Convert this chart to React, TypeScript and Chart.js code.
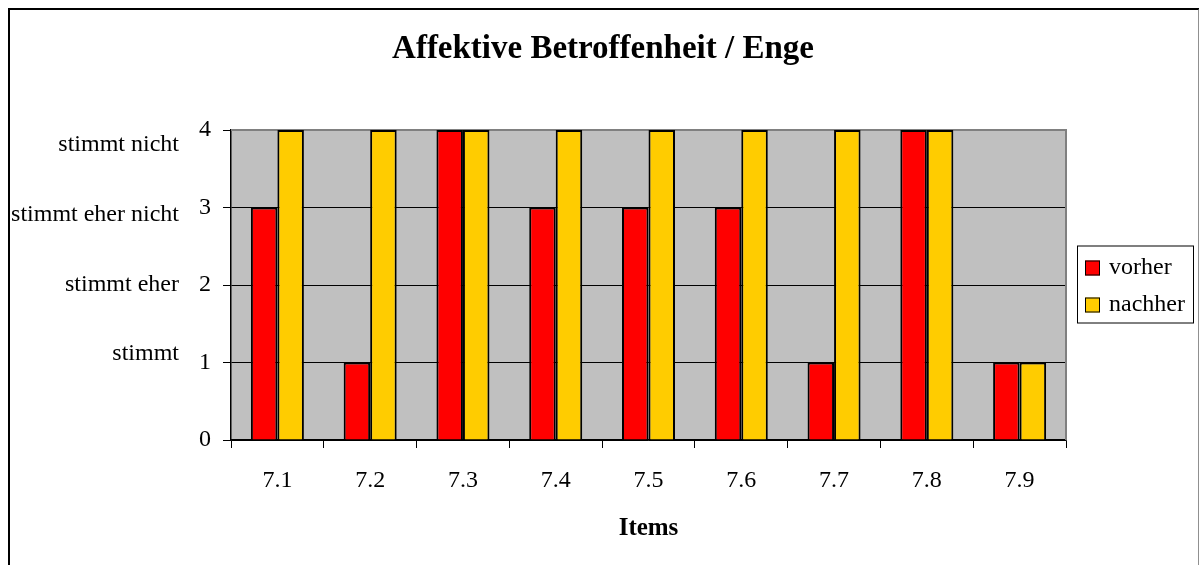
import React, { useEffect, useRef } from "react";
import { Chart, registerables } from "chart.js";

Chart.register(...registerables);

const categories = ["7.1", "7.2", "7.3", "7.4", "7.5", "7.6", "7.7", "7.8", "7.9"];
const vorher = [3, 1, 4, 3, 3, 3, 1, 4, 1];
const nachher = [4, 4, 4, 4, 4, 4, 4, 4, 1];
const seriesNames = ["vorher", "nachher"];
const seriesColors = ["#FF0000", "#FFCC00"];
const levelLabels = ["stimmt nicht", "stimmt eher nicht", "stimmt eher", "stimmt"];
const titleText = "Affektive Betroffenheit / Enge";
const xTitle = "Items";

const FONT = "'Liberation Serif', 'Times New Roman', serif";

const plotBgPlugin = {
  id: "plotBg",
  beforeDraw(chart: any) {
    const { ctx, chartArea: a } = chart;
    ctx.save();
    ctx.fillStyle = "#C0C0C0";
    ctx.fillRect(a.left, a.top, a.right - a.left, a.bottom - a.top);
    ctx.restore();
  },
  beforeDatasetsDraw(chart: any) {
    const { ctx, chartArea: a } = chart;
    ctx.save();
    ctx.strokeStyle = "#808080";
    ctx.lineWidth = 2;
    ctx.beginPath();
    ctx.moveTo(a.left, a.top);
    ctx.lineTo(a.right, a.top);
    ctx.lineTo(a.right, a.bottom);
    ctx.stroke();
    ctx.restore();
  },
};

const titlePlugin = {
  id: "centerTitle",
  afterDraw(chart: any) {
    const { ctx } = chart;
    ctx.save();
    ctx.font = `bold 33px ${FONT}`;
    ctx.fillStyle = "#000";
    ctx.textAlign = "center";
    ctx.textBaseline = "middle";
    ctx.fillText(titleText, 603, 49);
    ctx.restore();
  },
};

const levelLabelPlugin = {
  id: "levelLabels",
  afterDraw(chart: any) {
    const { ctx, chartArea: a } = chart;
    ctx.save();
    ctx.font = `24px ${FONT}`;
    ctx.fillStyle = "#000";
    ctx.textAlign = "right";
    ctx.textBaseline = "middle";
    levelLabels.forEach((t, i) => {
      ctx.fillText(t, 179, a.top + 15 + i * 69.7);
    });
    ctx.restore();
  },
};

const legendPlugin = {
  id: "boxLegend",
  afterDraw(chart: any) {
    const { ctx, chartArea: a } = chart;
    const x0 = a.right + 11;
    const w = 116;
    const h = 77;
    const y0 = (a.top + a.bottom) / 2 - h / 2 - 1;
    ctx.save();
    ctx.fillStyle = "#fff";
    ctx.fillRect(x0, y0, w, h);
    ctx.strokeStyle = "#000";
    ctx.lineWidth = 1;
    ctx.strokeRect(x0 + 0.5, y0 + 0.5, w, h);
    ctx.font = `24px ${FONT}`;
    ctx.textBaseline = "middle";
    ctx.textAlign = "left";
    chart.data.datasets.forEach((ds: any, i: number) => {
      const cy = y0 + 22 + i * 37;
      ctx.fillStyle = ds.backgroundColor;
      ctx.fillRect(x0 + 8, cy - 7, 15, 15);
      ctx.strokeStyle = "#000";
      ctx.strokeRect(x0 + 8.5, cy - 6.5, 14, 14);
      ctx.fillStyle = "#000";
      ctx.fillText(ds.label, x0 + 32, cy);
    });
    ctx.restore();
  },
};

export default function App() {
  const ref = useRef<HTMLCanvasElement | null>(null);

  useEffect(() => {
    if (!ref.current) return;
    const chart = new Chart(ref.current, {
      type: "bar",
      data: {
        labels: categories,
        datasets: [
          {
            label: seriesNames[0],
            data: vorher,
            backgroundColor: seriesColors[0],
            borderColor: "#000",
            borderWidth: 2,
            categoryPercentage: 2 / 3.5,
            barPercentage: 1,
          },
          {
            label: seriesNames[1],
            data: nachher,
            backgroundColor: seriesColors[1],
            borderColor: "#000",
            borderWidth: 2,
            categoryPercentage: 2 / 3.5,
            barPercentage: 1,
          },
        ],
      },
      options: {
        responsive: false,
        animation: false,
        layout: { padding: { left: 0, right: 133, top: 130, bottom: 0 } },
        plugins: {
          legend: { display: false },
          tooltip: { enabled: false },
          title: { display: false },
        },
        scales: {
          x: {
            grid: {
              offset: true,
              drawOnChartArea: false,
              tickLength: 8,
              tickColor: "#000",
              color: "#000",
            },
            border: { color: "#000", width: 1.5 },
            ticks: {
              color: "#000",
              font: { family: FONT, size: 24 },
              padding: 18,
              maxRotation: 0,
            },
            title: {
              display: true,
              text: xTitle,
              color: "#000",
              font: { family: FONT, size: 25, weight: "bold" },
              padding: { top: 0, bottom: 21 },
            },
            afterFit: (s: any) => {
              s.height = 125;
            },
          },
          y: {
            min: 0,
            max: 4,
            grid: {
              color: (c: any) => (c.tick && c.tick.value === 4 ? "rgba(0,0,0,0)" : "#000"),
              tickColor: "#000",
              tickLength: 8,
              lineWidth: 1,
            },
            border: { color: "#000", width: 1.5 },
            ticks: {
              stepSize: 1,
              color: "#000",
              font: { family: FONT, size: 24 },
              padding: 12,
            },
            afterFit: (s: any) => {
              s.width = 231;
            },
          },
        },
      },
      plugins: [plotBgPlugin, titlePlugin, levelLabelPlugin, legendPlugin],
    });
    return () => chart.destroy();
  }, []);

  return (
    <div
      style={{
        position: "fixed",
        left: 0,
        top: 0,
        width: 1199,
        height: 565,
        overflow: "hidden",
        background: "#fff",
      }}
    >
      <canvas
        ref={ref}
        width={1199}
        height={565}
        style={{ position: "absolute", left: 0, top: 0, width: 1199, height: 565 }}
      />
      <div
        style={{
          position: "absolute",
          left: 8,
          top: 8,
          width: 1188,
          height: 620,
          borderLeft: "2px solid #000",
          borderTop: "2px solid #000",
          borderRight: "2px solid #909090",
          pointerEvents: "none",
        }}
      />
    </div>
  );
}
